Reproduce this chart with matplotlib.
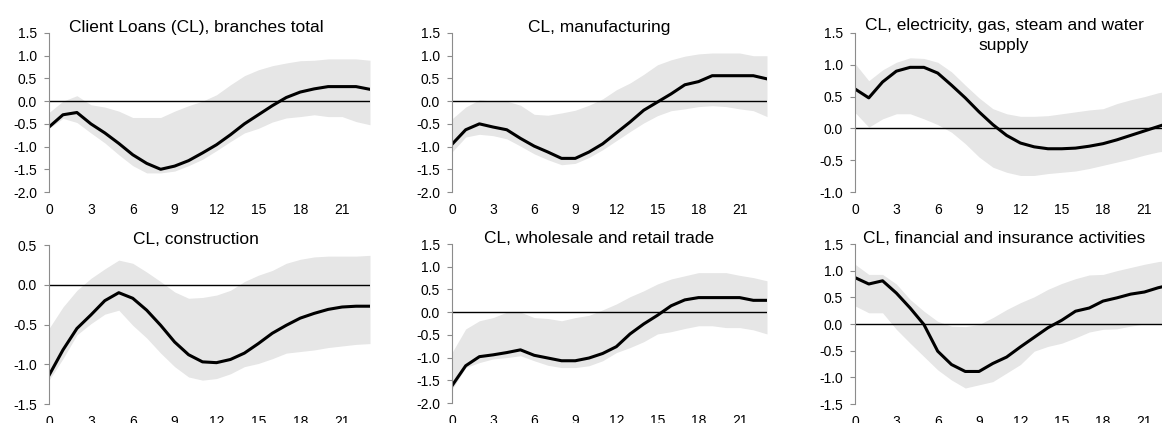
import numpy as np
import matplotlib
matplotlib.use("Agg")
import matplotlib.pyplot as plt

plt.rcParams['font.family'] = ['Liberation Sans', 'DejaVu Sans']

# horizonte (meses)
t = np.arange(24)

# Client Loans, branches total
tot_mid = [-0.57, -0.3, -0.25, -0.5, -0.7, -0.93, -1.18, -1.37, -1.5, -1.43, -1.31, -1.14,
           -0.96, -0.74, -0.5, -0.3, -0.1, 0.08, 0.2, 0.27, 0.32, 0.32, 0.32, 0.26]
tot_up = [-0.25, 0.0, 0.12, -0.08, -0.13, -0.22, -0.36, -0.36, -0.36, -0.22, -0.1, 0.0,
          0.14, 0.36, 0.56, 0.69, 0.78, 0.84, 0.89, 0.9, 0.93, 0.93, 0.93, 0.9]
tot_lo = [-0.6, -0.38, -0.47, -0.7, -0.92, -1.18, -1.42, -1.58, -1.58, -1.54, -1.42, -1.28,
          -1.09, -0.89, -0.7, -0.6, -0.46, -0.37, -0.34, -0.3, -0.34, -0.34, -0.45, -0.52]

# manufacturing
man_mid = [-0.95, -0.63, -0.5, -0.57, -0.63, -0.82, -0.99, -1.12, -1.26, -1.26, -1.12, -0.94,
           -0.7, -0.46, -0.2, -0.02, 0.16, 0.36, 0.43, 0.56, 0.56, 0.56, 0.56, 0.49]
man_up = [-0.39, -0.13, 0.03, 0.0, 0.0, -0.09, -0.29, -0.31, -0.26, -0.2, -0.09, 0.05,
          0.25, 0.4, 0.59, 0.8, 0.91, 0.99, 1.04, 1.06, 1.06, 1.06, 1.0, 1.0]
man_lo = [-1.12, -0.79, -0.73, -0.76, -0.83, -0.99, -1.16, -1.29, -1.4, -1.37, -1.24, -1.07,
          -0.87, -0.67, -0.48, -0.32, -0.21, -0.17, -0.12, -0.1, -0.12, -0.17, -0.21, -0.34]

# electricity, gas, steam and water supply
ele_mid = [0.62, 0.48, 0.73, 0.9, 0.96, 0.96, 0.87, 0.68, 0.48, 0.26, 0.06, -0.11,
           -0.23, -0.29, -0.32, -0.32, -0.31, -0.28, -0.24, -0.18, -0.11, -0.04, 0.03, 0.1]
ele_up = [1.02, 0.75, 0.92, 1.04, 1.11, 1.1, 1.04, 0.89, 0.68, 0.48, 0.31, 0.23,
          0.19, 0.19, 0.2, 0.23, 0.26, 0.29, 0.31, 0.39, 0.45, 0.5, 0.56, 0.6]
ele_lo = [0.25, 0.02, 0.15, 0.23, 0.23, 0.15, 0.06, -0.06, -0.24, -0.45, -0.61, -0.69,
          -0.74, -0.74, -0.71, -0.69, -0.67, -0.63, -0.58, -0.53, -0.48, -0.42, -0.37, -0.34]

# construction
con_mid = [-1.14, -0.82, -0.55, -0.38, -0.2, -0.1, -0.17, -0.32, -0.51, -0.72, -0.88, -0.97,
           -0.98, -0.94, -0.86, -0.74, -0.61, -0.51, -0.42, -0.36, -0.31, -0.28, -0.27, -0.27]
con_up = [-0.55, -0.28, -0.07, 0.08, 0.2, 0.31, 0.27, 0.16, 0.04, -0.09, -0.17, -0.16,
          -0.13, -0.07, 0.04, 0.12, 0.18, 0.27, 0.32, 0.35, 0.36, 0.36, 0.36, 0.37]
con_lo = [-1.2, -0.93, -0.63, -0.49, -0.37, -0.32, -0.51, -0.67, -0.86, -1.03, -1.16, -1.2,
          -1.18, -1.12, -1.03, -0.99, -0.93, -0.86, -0.84, -0.82, -0.79, -0.77, -0.75, -0.74]

# wholesale and retail trade
who_mid = [-1.62, -1.18, -0.98, -0.94, -0.89, -0.83, -0.95, -1.01, -1.07, -1.07, -1.01, -0.91,
           -0.76, -0.48, -0.26, -0.07, 0.14, 0.27, 0.32, 0.32, 0.32, 0.32, 0.26, 0.26]
who_up = [-0.89, -0.37, -0.19, -0.12, 0.0, 0.0, -0.12, -0.14, -0.19, -0.12, -0.07, 0.05,
          0.18, 0.34, 0.47, 0.62, 0.73, 0.8, 0.87, 0.87, 0.87, 0.81, 0.76, 0.69]
who_lo = [-1.7, -1.22, -1.11, -1.03, -1.0, -0.96, -1.07, -1.17, -1.22, -1.22, -1.18, -1.07,
          -0.89, -0.78, -0.65, -0.48, -0.43, -0.36, -0.3, -0.3, -0.34, -0.34, -0.39, -0.48]

# financial and insurance activities
fin_mid = [0.87, 0.75, 0.81, 0.58, 0.3, -0.01, -0.51, -0.76, -0.89, -0.89, -0.74, -0.62,
           -0.43, -0.25, -0.07, 0.07, 0.24, 0.3, 0.43, 0.49, 0.56, 0.6, 0.68, 0.74]
fin_up = [1.12, 0.93, 0.93, 0.75, 0.46, 0.24, 0.05, -0.04, -0.05, -0.01, 0.12, 0.27,
          0.4, 0.51, 0.65, 0.76, 0.85, 0.92, 0.93, 1.0, 1.06, 1.12, 1.17, 1.2]
fin_lo = [0.34, 0.21, 0.21, -0.1, -0.36, -0.61, -0.86, -1.05, -1.2, -1.14, -1.08, -0.92,
          -0.76, -0.51, -0.42, -0.36, -0.26, -0.15, -0.1, -0.09, -0.04, 0.0, 0.0, 0.02]

titulos = ["Client Loans (CL), branches total", "CL, manufacturing",
           "CL, electricity, gas, steam and water\nsupply", "CL, construction",
           "CL, wholesale and retail trade", "CL, financial and insurance activities"]
medias = [tot_mid, man_mid, ele_mid, con_mid, who_mid, fin_mid]
arriba = [tot_up, man_up, ele_up, con_up, who_up, fin_up]
abajo = [tot_lo, man_lo, ele_lo, con_lo, who_lo, fin_lo]
limites = [(-2.0, 1.5), (-2.0, 1.5), (-1.0, 1.5), (-1.5, 0.5), (-2.0, 1.5), (-1.5, 1.5)]

W, H = 1162, 423
fig = plt.figure(figsize=(W / 100, H / 100), dpi=100)

# posiciones en pixeles: (izq, der, arriba, abajo)
cajas = [(49, 370, 33, 192), (452, 767, 33, 192), (855, 1172, 33, 192),
         (49, 370, 245, 404), (452, 767, 244, 403), (855, 1172, 244, 404)]
tit_x = [0.458, 0.467, 0.47, 0.458, 0.467, 0.47]

for i in range(6):
    l, r, tp, bt = cajas[i]
    alto = bt - tp
    ax = fig.add_axes([l / W, (H - bt) / H, (r - l) / W, alto / H])
    ax.fill_between(t, abajo[i], arriba[i], color='#e6e6e6', lw=0)
    ax.axhline(0, color='black', lw=1.0)
    ax.plot(t, medias[i], color='black', lw=2.2)
    lo, hi = limites[i]
    ax.set_ylim(lo, hi)
    ax.set_yticks(np.arange(lo, hi + 0.01, 0.5))
    ax.set_yticklabels(["%.1f" % v for v in np.arange(lo, hi + 0.01, 0.5)])
    ax.set_xlim(0, 23)
    ax.set_xticks(np.arange(0, 22, 3))
    for s in ['top', 'right', 'bottom']:
        ax.spines[s].set_visible(False)
    ax.spines['left'].set_color('#8c8c8c')
    ax.tick_params(axis='y', direction='out', length=3.6, color='#8c8c8c', labelsize=10, pad=5)
    ax.tick_params(axis='x', length=0, labelsize=10, pad=8)
    ax.patch.set_alpha(0)
    # linea base de la ultima linea del titulo
    nl = titulos[i].count("\n")
    ax.text(tit_x[i], 1 + (1.0 - 18.0 * nl) / alto, titulos[i], transform=ax.transAxes,
            ha='center', va='baseline', fontsize=12.5, linespacing=1.4)

fig.savefig("out.png", dpi=100)
